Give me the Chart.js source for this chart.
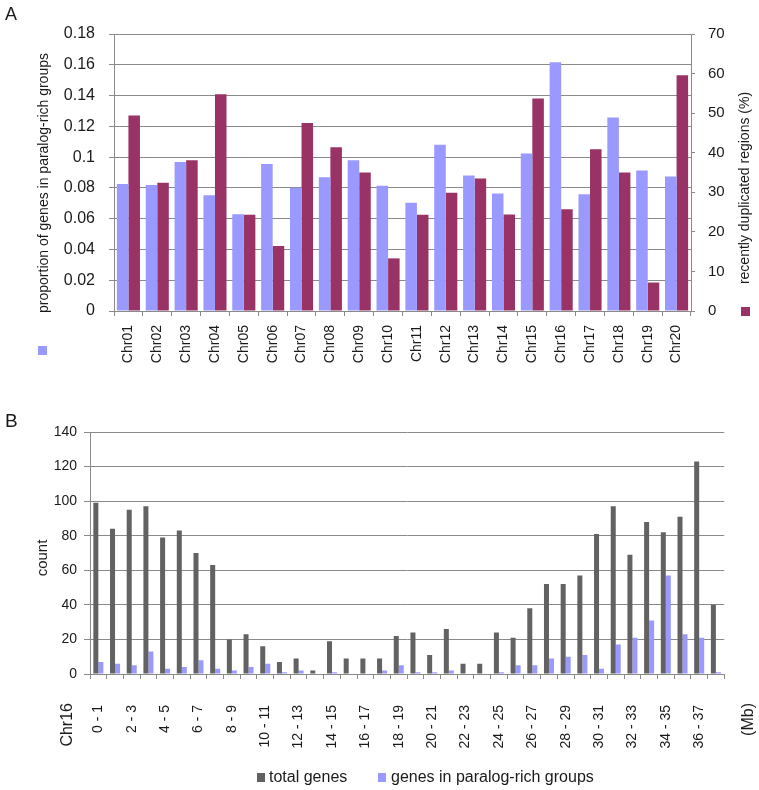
<!DOCTYPE html>
<html><head><meta charset="utf-8">
<script src="https://cdn.jsdelivr.net/npm/chart.js@4"></script>
<style>
html,body{margin:0;padding:0;background:#fff;width:759px;height:790px;overflow:hidden}
canvas{position:absolute;left:0}
#ca{top:0}
#cb{top:380px}
</style></head><body>
<canvas id="ca" width="759" height="380"></canvas>
<canvas id="cb" width="759" height="410"></canvas>
<script>
// ---------- Panel A data ----------
const chromosomes = ['Chr01','Chr02','Chr03','Chr04','Chr05','Chr06','Chr07','Chr08','Chr09','Chr10',
                     'Chr11','Chr12','Chr13','Chr14','Chr15','Chr16','Chr17','Chr18','Chr19','Chr20'];
const paralogProportion = [0.0825,0.0818,0.0968,0.0752,0.0628,0.0955,0.0801,0.0869,0.0979,0.0814,
                           0.0704,0.1080,0.0880,0.0764,0.1023,0.1617,0.0759,0.1257,0.0913,0.0874];
const duplicatedRegions = [49.4,32.4,38.1,54.8,24.3,16.4,47.5,41.4,35.0,13.3,
                           24.3,29.9,33.5,24.4,53.7,25.7,40.9,35.0,7.2,59.6];
const leftTicks = [0,0.02,0.04,0.06,0.08,0.1,0.12,0.14,0.16,0.18];
const rightTicks = [0,10,20,30,40,50,60,70];

// ---------- Panel B data ----------
const binLabels = ['0 - 1','1 - 2','2 - 3','3 - 4','4 - 5','5 - 6','6 - 7','7 - 8','8 - 9','9 - 10',
                   '10 - 11','11 - 12','12 - 13','13 - 14','14 - 15','15 - 16','16 - 17','17 - 18','18 - 19','19 - 20',
                   '20 - 21','21 - 22','22 - 23','23 - 24','24 - 25','25 - 26','26 - 27','27 - 28','28 - 29','29 - 30',
                   '30 - 31','31 - 32','32 - 33','33 - 34','34 - 35','35 - 36','36 - 37','37 - 38'];
const totalGenes = [99,84,95,97,79,83,70,63,20,23,
                    16,7,9,2,19,9,9,9,22,24,
                    11,26,6,6,24,21,38,52,52,57,
                    81,97,69,88,82,91,123,40];
const paralogGenes = [7,6,5,13,3,4,8,3,2,4,
                      6,1,2,0,1,0,0,2,5,1,
                      1,2,0,0,1,5,5,9,10,11,
                      3,17,21,31,57,23,21,1];
const countTicks = [0,20,40,60,80,100,120,140];

const FONT = "'Liberation Sans', Arial, sans-serif";
const GRID = '#8a8a8a';
const TXT = '#1a1a1a';
const BLUE = '#9999ff';
const PURPLE = '#993366';
const GREY = '#626262';

function vText(ctx, text, x, y, size, align) {
  ctx.save();
  ctx.translate(x, y);
  ctx.rotate(-Math.PI / 2);
  ctx.font = size + 'px ' + FONT;
  ctx.fillStyle = TXT;
  ctx.textAlign = align || 'center';
  ctx.textBaseline = 'middle';
  ctx.fillText(text, 0, 0);
  ctx.restore();
}

const annotA = {
  id: 'annotA',
  afterDraw(chart) {
    const ctx = chart.ctx;
    ctx.save();
    ctx.fillStyle = TXT;
    ctx.font = '18px ' + FONT;
    ctx.textAlign = 'left';
    ctx.textBaseline = 'alphabetic';
    ctx.fillText('A', 5, 20);
    vText(ctx, 'proportion of genes in paralog-rich groups', 44, 183, 14);
    ctx.fillStyle = BLUE;
    ctx.fillRect(38, 346, 9, 9);
    vText(ctx, 'recently duplicated regions (%)', 745, 188, 14);
    ctx.fillStyle = PURPLE;
    ctx.fillRect(741, 307, 9, 9);
    ctx.restore();
  }
};

new Chart(document.getElementById('ca'), {
  type: 'bar',
  data: {
    labels: chromosomes,
    datasets: [
      {label: 'proportion of genes in paralog-rich groups', data: paralogProportion, backgroundColor: BLUE, yAxisID: 'y'},
      {label: 'recently duplicated regions (%)', data: duplicatedRegions, backgroundColor: PURPLE, yAxisID: 'y1'}
    ]
  },
  options: {
    responsive: false, animation: false, devicePixelRatio: 1,
    categoryPercentage: 0.8, barPercentage: 1.0,
    layout: {padding: {top: 34, left: 0, right: 0, bottom: 0}},
    plugins: {legend: {display: false}, tooltip: {enabled: false}},
    scales: {
      x: {
        afterFit(s) { s.height = 69; },
        grid: {display: true, drawOnChartArea: false, offset: true, color: GRID, tickLength: 5},
        border: {color: GRID, width: 1},
        ticks: {color: TXT, font: {family: FONT, size: 14}, minRotation: 90, maxRotation: 90, padding: 9, autoSkip: false}
      },
      y: {
        position: 'left', min: 0, max: 0.18,
        afterFit(s) { s.width = 114; },
        afterBuildTicks(s) { s.ticks = leftTicks.map(v => ({value: v})); },
        grid: {color: GRID, tickLength: 5, lineWidth: 1},
        border: {color: GRID, width: 1},
        ticks: {color: TXT, font: {family: FONT, size: 16}, padding: 14, callback: v => String(v)}
      },
      y1: {
        position: 'right', min: 0, max: 70,
        afterFit(s) { s.width = 68; },
        afterBuildTicks(s) { s.ticks = rightTicks.map(v => ({value: v})); },
        grid: {drawOnChartArea: false, color: GRID, tickLength: 4},
        border: {color: GRID, width: 1},
        ticks: {color: TXT, font: {family: FONT, size: 15}, padding: 13, callback: v => String(v)}
      }
    }
  },
  plugins: [annotA]
});

const annotB = {
  id: 'annotB',
  afterDraw(chart) {
    const ctx = chart.ctx;
    ctx.save();
    ctx.fillStyle = TXT;
    ctx.font = '19px ' + FONT;
    ctx.textAlign = 'left';
    ctx.textBaseline = 'alphabetic';
    ctx.fillText('B', 5, 47);
    vText(ctx, 'count', 43, 178, 15);
    vText(ctx, 'Chr16', 67.5, 323, 16, 'right');
    vText(ctx, '(Mb)', 749, 323, 16, 'right');
    // legend
    const ds = chart.data.datasets;
    ctx.fillStyle = ds[0].backgroundColor;
    ctx.fillRect(257, 393, 8, 9);
    ctx.fillStyle = ds[1].backgroundColor;
    ctx.fillRect(378, 393, 8, 9);
    ctx.fillStyle = TXT;
    ctx.font = '16px ' + FONT;
    ctx.textBaseline = 'middle';
    ctx.fillText(ds[0].label, 269, 398);
    ctx.fillText(ds[1].label, 391, 398);
    ctx.restore();
  }
};

new Chart(document.getElementById('cb'), {
  type: 'bar',
  data: {
    labels: binLabels,
    datasets: [
      {label: 'total genes', data: totalGenes, backgroundColor: GREY},
      {label: 'genes in paralog-rich groups', data: paralogGenes, backgroundColor: BLUE}
    ]
  },
  options: {
    responsive: false, animation: false, devicePixelRatio: 1,
    categoryPercentage: 0.6, barPercentage: 1.0,
    layout: {padding: {top: 52, left: 0, right: 24, bottom: 0}},
    plugins: {legend: {display: false}, tooltip: {enabled: false}},
    scales: {
      x: {
        afterFit(s) { s.height = 116; },
        grid: {display: true, drawOnChartArea: false, offset: true, color: GRID, tickLength: 5},
        border: {color: GRID, width: 1},
        ticks: {color: TXT, font: {family: FONT, size: 14}, minRotation: 90, maxRotation: 90, padding: 26, autoSkip: false,
                callback(v, i) { return i % 2 === 0 ? binLabels[i] : ''; }}
      },
      y: {
        min: 0, max: 140,
        afterFit(s) { s.width = 90; },
        afterBuildTicks(s) { s.ticks = countTicks.map(v => ({value: v})); },
        grid: {color: GRID, tickLength: 6},
        border: {color: GRID, width: 1},
        ticks: {color: TXT, font: {family: FONT, size: 14}, padding: 7}
      }
    }
  },
  plugins: [annotB]
});
</script>
</body></html>
